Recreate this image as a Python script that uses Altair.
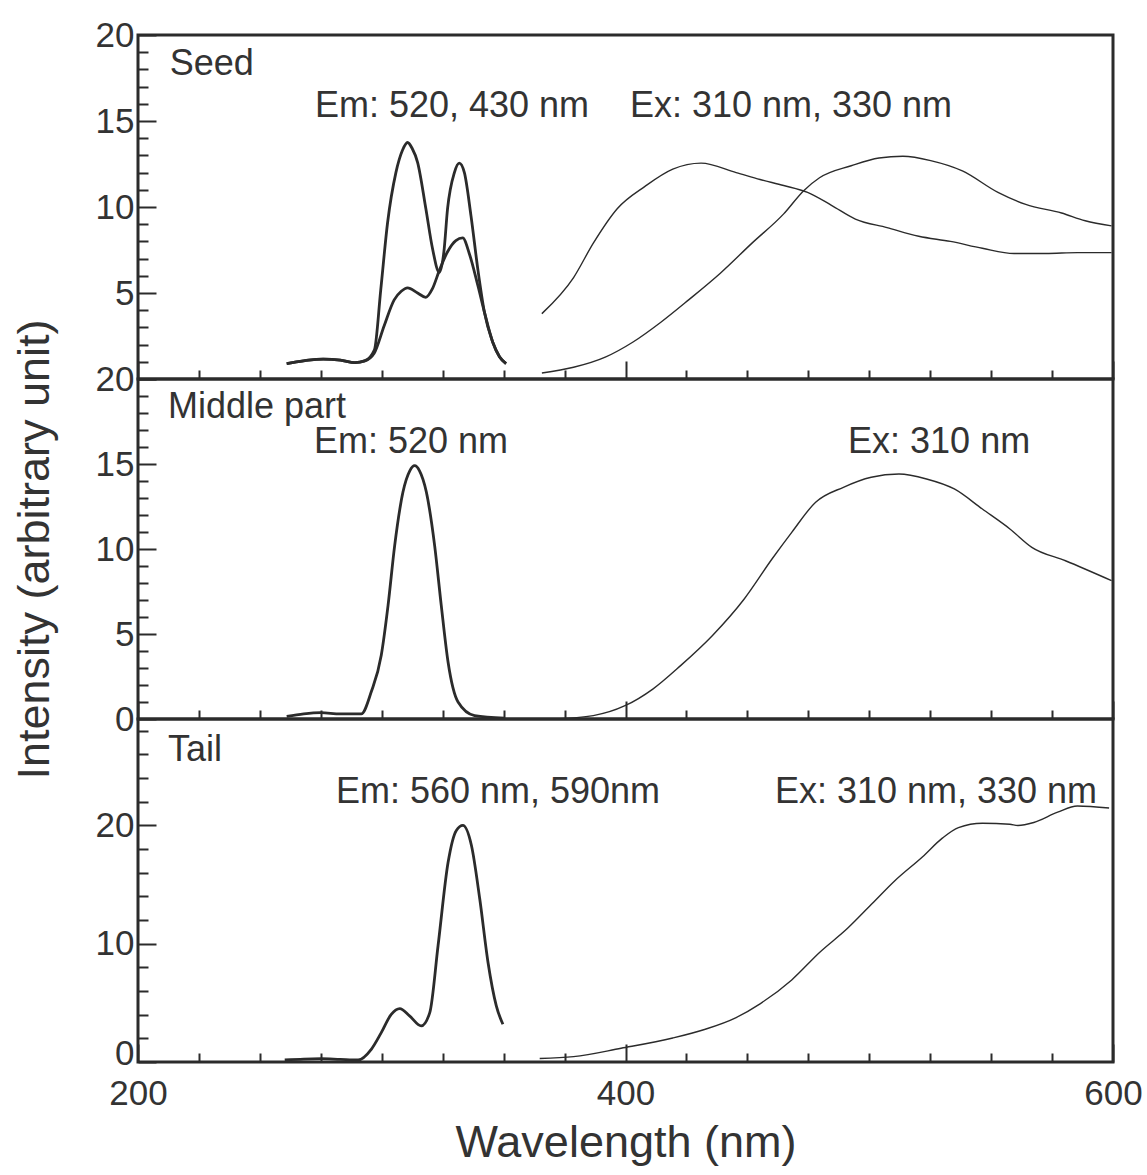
import altair as alt
import pandas as pd

FONT = "Liberation Sans"
INK = "#2b2b2b"
TEXT = "#333333"

# ---------------- Seed ----------------
seed_em1_nm = [261, 265, 270, 276, 283, 289, 293, 297, 299.6, 302.4, 305.8, 308.5, 310.6, 312.5,
               314.7, 318.1, 320.8, 323.6, 325.5, 327, 329.8, 331.8, 333.9, 336.6, 339.4, 342.1,
               345.5, 348.3, 351]
seed_em1_val = [0.9, 1.0, 1.1, 1.15, 1.1, 0.95, 1.05, 1.7, 5.2, 9.1, 12.0, 13.3, 13.75, 13.4,
                12.6, 9.9, 7.6, 6.2, 7.4, 9.9, 12.0, 12.55, 12.0, 9.5, 6.4, 3.9,
                2.15, 1.3, 0.9]

seed_em2_nm = [261, 265, 270, 276, 283, 289, 293, 296.9, 301, 305.1, 308, 310.6, 314.7, 318.1,
               320.8, 323.6, 327, 330.4, 333.2, 335.9, 339.4, 342.1, 345.5, 348.3, 351]
seed_em2_val = [0.9, 1.0, 1.1, 1.15, 1.1, 0.95, 1.05, 1.5, 3.1, 4.6, 5.1, 5.3, 5.0, 4.75,
                5.25, 6.3, 7.4, 8.05, 8.2, 7.3, 5.45, 3.9, 2.15, 1.3, 0.9]

seed_ex1_nm = [365.7, 378.7, 386.8, 396.6, 408, 419.4, 431, 445.4, 455.2, 464.9,
               474.7, 484.5, 494.3, 507.3, 520.3, 533.3, 546.4, 559.4, 572.4, 585.4, 599.4]
seed_ex1_val = [3.8, 5.9, 7.9, 9.9, 11.2, 12.2, 12.55, 12.0, 11.6, 11.25,
                10.85, 10.1, 9.3, 8.8, 8.3, 8.0, 7.6, 7.3, 7.3, 7.35, 7.35]

seed_ex2_nm = [365.7, 378.7, 391.7, 403.1, 414.5, 425.9, 438.9, 451.9, 464.9, 473.1, 479.6,
               492.6, 504, 513.8, 525.2, 538.2, 552.8, 564.2, 578.9, 588.6, 599.4]
seed_ex2_val = [0.35, 0.68, 1.27, 2.15, 3.3, 4.6, 6.15, 7.9, 9.6, 10.95, 11.7,
                12.4, 12.85, 12.95, 12.7, 12.1, 10.85, 10.15, 9.65, 9.2, 8.9]

# ---------------- Middle part ----------------
mid_em_nm = [261, 268, 275, 283, 291.6, 295.7, 299.8, 302.6, 305.3, 308.7, 311.5, 313.5,
             315.5, 318.3, 321.7, 324.4, 327.2, 331.3, 338.1, 350.4]
mid_em_val = [0.15, 0.3, 0.37, 0.3, 0.3, 1.6, 3.75, 6.7, 10.2, 13.35, 14.6, 14.9,
              14.6, 13.35, 10.2, 6.7, 3.35, 1.0, 0.2, 0.05]

mid_ex_nm = [370.5, 386.8, 399.8, 411.2, 422.6, 435.6, 448.7, 460.1, 468.2, 478, 489.4,
             500.8, 512.2, 523.5, 534.9, 546.4, 557.7, 566.7, 580.5, 599.4]
mid_ex_val = [0.0, 0.2, 0.78, 1.76, 3.14, 4.9, 7.06, 9.41, 10.98, 12.75, 13.63,
              14.22, 14.41, 14.12, 13.53, 12.35, 11.18, 10.1, 9.31, 8.14]

# ---------------- Tail ----------------
tail_em_nm = [260.2, 268, 275.2, 283, 290.3, 295.7, 299.8, 303.9, 307.4, 311.4, 316.2,
              319.7, 323.1, 327.2, 330.6, 333.3, 336.8, 340.2, 343.6, 347, 349.7]
tail_em_val = [0.17, 0.25, 0.28, 0.22, 0.17, 1.07, 2.48, 4.03, 4.52, 3.9, 3.05,
               4.18, 9.83, 16.86, 19.58, 20.0, 18.3, 13.8, 8.42, 4.75, 3.19]

tail_ex_nm = [364.8, 378.7, 398.2, 419.4, 432.4, 445.4, 455.2, 468.2, 479.6, 491, 500.8,
              510.5, 521.9, 530.1, 536.6, 546.4, 557.7, 561, 567.5, 577.3, 585.4, 598.4]
tail_ex_val = [0.3, 0.45, 1.16, 2.03, 2.75, 3.76, 4.92, 6.94, 9.26, 11.28, 13.31,
               15.33, 17.36, 18.95, 19.82, 20.19, 20.1, 20.0, 20.25, 21.12, 21.64, 21.47]

# panel annotations: text, wavelength of left edge, intensity of centre line
seed_notes = ["Seed", "Em: 520, 430 nm", "Ex: 310 nm, 330 nm"]
seed_note_nm = [213, 272.6, 401.8]
seed_note_val = [18.3, 15.9, 15.9]

mid_notes = ["Middle part", "Em: 520 nm", "Ex: 310 nm"]
mid_note_nm = [212.3, 272.2, 491.3]
mid_note_val = [18.35, 16.3, 16.3]

tail_notes = ["Tail", "Em: 560 nm, 590nm", "Ex: 310 nm, 330 nm"]
tail_note_nm = [212.3, 281.2, 461.3]
tail_note_val = [26.4, 22.8, 22.8]

AXIS_STYLE = dict(
    labelFont=FONT, labelFontSize=35, labelColor=TEXT,
    titleFont=FONT, titleFontSize=45, titleFontWeight="normal", titleColor=TEXT,
    tickColor=INK, tickWidth=2, domain=False, grid=False,
    labelFlush=False, labelOverlap=False,
)


def curves(*parts):
    frames = []
    for name, kind, nm, val in parts:
        frames.append(pd.DataFrame({"nm": nm, "value": val, "series": name, "kind": kind}))
    return pd.concat(frames, ignore_index=True)


def notes(labels, nm, val):
    return pd.DataFrame({"label": labels, "nm": nm, "value": val})


def panel(data, note_data, ymax, minor, major, height, bottom, ytitle, label_test, zero_lift):
    x_enc = alt.X(
        "nm:Q",
        scale=alt.Scale(domain=[200, 600], nice=False, zero=False),
        axis=alt.Axis(
            values=list(range(200, 601, 25)),
            tickSize=alt.ExprRef("datum.value % 200 === 0 ? -18 : -9"),
            labels=bottom,
            labelExpr="datum.value % 200 === 0 ? datum.label : ''",
            labelPadding=32,
            title="Wavelength (nm)" if bottom else None,
            titlePadding=0,
            **AXIS_STYLE,
        ),
    )
    y_enc = alt.Y(
        "value:Q",
        scale=alt.Scale(domain=[0, ymax], nice=False, zero=True),
        axis=alt.Axis(
            values=list(range(0, ymax + 1, minor)),
            tickSize=alt.ExprRef(f"datum.value % {major} === 0 ? -18 : -10"),
            labelExpr=f"{label_test} ? datum.label : ''",
            labelOffset=alt.ExprRef(f"datum.value === 0 ? {-zero_lift} : 0"),
            labelPadding=22,
            title=ytitle,
            titlePadding=38,
            **AXIS_STYLE,
        ),
    )
    lines = alt.Chart(data).mark_line(interpolate="monotone", color=INK).encode(
        x=x_enc,
        y=y_enc,
        detail="series:N",
        strokeWidth=alt.StrokeWidth(
            "kind:N", scale=alt.Scale(domain=["em", "ex"], range=[2.8, 1.4]), legend=None
        ),
    )
    text = alt.Chart(note_data).mark_text(
        align="left", baseline="middle", font=FONT, fontSize=36, color=TEXT
    ).encode(x=x_enc, y=y_enc, text="label:N")
    return alt.layer(lines, text).properties(width=975, height=height)


seed = panel(
    curves(("em1", "em", seed_em1_nm, seed_em1_val),
           ("em2", "em", seed_em2_nm, seed_em2_val),
           ("ex1", "ex", seed_ex1_nm, seed_ex1_val),
           ("ex2", "ex", seed_ex2_nm, seed_ex2_val)),
    notes(seed_notes, seed_note_nm, seed_note_val),
    20, 1, 5, 344, False, None,
    "datum.value % 5 === 0 && datum.value > 0", 0,
)
middle = panel(
    curves(("em", "em", mid_em_nm, mid_em_val),
           ("ex", "ex", mid_ex_nm, mid_ex_val)),
    notes(mid_notes, mid_note_nm, mid_note_val),
    20, 1, 5, 340, False, "Intensity (arbitrary unit)",
    "datum.value % 5 === 0", 0,
)
tail = panel(
    curves(("em", "em", tail_em_nm, tail_em_val),
           ("ex", "ex", tail_ex_nm, tail_ex_val)),
    notes(tail_notes, tail_note_nm, tail_note_val),
    29, 2, 10, 343, True, None,
    "datum.value % 10 === 0", 9,
)

chart = alt.vconcat(seed, middle, tail, spacing=0, bounds="flush").properties(
    padding={"left": 10, "top": 16, "right": 0, "bottom": 5},
    background="white",
).configure_view(
    stroke=INK, strokeWidth=3
)

chart.save("out.html", embed_options={"renderer": "svg", "actions": False})
